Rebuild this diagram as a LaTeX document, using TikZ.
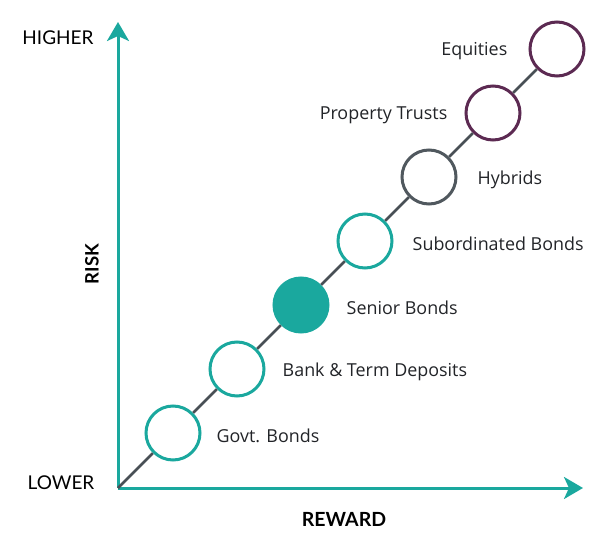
\documentclass[tikz,border=0pt]{standalone}
\usepackage{fontspec}
\setmainfont{Lato}
\newfontfamily\assetfont{Open Sans}
\usetikzlibrary{arrows.meta,positioning}
\definecolor{riskteal}{RGB}{26,168,158}
\definecolor{riskpurple}{RGB}{92,42,82}
\definecolor{riskgray}{RGB}{80,88,94}
\definecolor{risktext}{RGB}{34,36,40}
\tikzset{
  asset/.style={circle, draw=riskteal, line width=3pt, fill=white, minimum size=54pt, inner sep=0pt},
  assetlabel/.style={inner sep=0pt, text=risktext, font=\assetfont\fontsize{17.9}{20}\selectfont},
  axislabel/.style={inner sep=0pt, text=black, font=\fontsize{19}{21}\selectfont},
  axis/.style={line width=3pt, draw=riskteal, -{Stealth[length=19pt,width=22pt,inset=5pt]}},
  link/.style={line width=2.5pt, draw=riskgray!90!black}
}
\begin{document}
\begin{tikzpicture}[x=1pt, y=-1pt]
		%%%%% START %%%%%
		\useasboundingbox (0, 0) rectangle (611, 548);
		
		\coordinate (origin) at (118, 488);
		\coordinate (ytip) at (118, 22);
		\coordinate (xtip) at (583, 488);
		
		\draw[axis] (origin) -- (ytip);
		\draw[axis] (origin) -- (xtip);
		
		\node[axislabel] (higher) at (58, 38) {HIGHER};
		\node[axislabel] (lower) at (61, 483) {LOWER};
		\node[axislabel, font=\bfseries\fontsize{18.5}{20}\selectfont, rotate=90] (risk) at (92, 264) {RISK};
		\node[axislabel, font=\bfseries\fontsize{19.5}{21}\selectfont] (reward) at (344, 519) {REWARD};
		
		\node[asset] (govt) at (173, 433) {};
		\node[asset] (bank) at (237, 369) {};
		\node[asset, fill=riskteal] (senior) at (301, 305) {};
		\node[asset] (subord) at (365, 241) {};
		\node[asset, draw=riskgray] (hybrids) at (429, 177) {};
		\node[asset, draw=riskpurple] (property) at (493, 113) {};
		\node[asset, draw=riskpurple] (equities) at (557, 49) {};
		
		\draw[link] (origin) -- (govt);
		\draw[link] (govt) -- (bank);
		\draw[link] (bank) -- (senior);
		\draw[link] (senior) -- (subord);
		\draw[link] (subord) -- (hybrids);
		\draw[link] (hybrids) -- (property);
		\draw[link] (property) -- (equities);
		
		\node[assetlabel, right=15pt of govt, yshift=-2.5pt] {Govt. Bonds};
		\node[assetlabel, right=17pt of bank, yshift=-2.5pt] {Bank \& Term Deposits};
		\node[assetlabel, right=17pt of senior, yshift=-2.5pt] {Senior Bonds};
		\node[assetlabel, right=19pt of subord, yshift=-2.5pt] {Subordinated Bonds};
		\node[assetlabel, right=20pt of hybrids, yshift=-2.5pt] {Hybrids};
		\node[assetlabel, left=17pt of property, yshift=-2.5pt] {Property Trusts};
		\node[assetlabel, left=21pt of equities, yshift=-2.5pt] {Equities};
		
		%%%%% END %%%%%
	\end{tikzpicture}
\end{document}
